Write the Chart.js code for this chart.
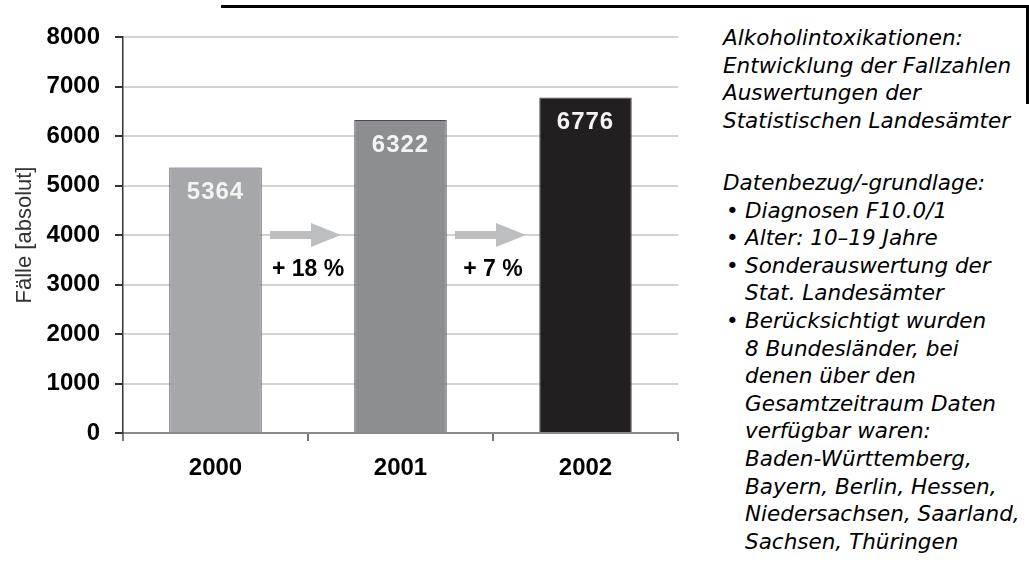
<!DOCTYPE html>
<html lang="de">
<head>
    <meta charset="UTF-8">
    <title>Alkoholintoxikationen: Entwicklung der Fallzahlen</title>
    <script src="https://cdn.jsdelivr.net/npm/chart.js"></script>
    <style>
        body { margin: 0; background: #fff; }
        .page { position: relative; width: 1029px; height: 579px; overflow: hidden; }
        .chart-box { position: absolute; left: 0; top: 0; width: 700px; height: 579px; }
        .frame {
            position: absolute; left: 221px; right: 0; top: 5px; height: 96px;
            border-top: 3px solid #000; border-right: 3px solid #000;
        }
        .note {
            position: absolute; left: 723px; width: 306px;
            font-family: "DejaVu Sans", sans-serif; font-style: italic;
            font-size: 21.5px; line-height: 27.6px; color: #000; white-space: nowrap;
        }
        .note .item { position: relative; padding-left: 22px; }
        .note .item::before { content: "•"; position: absolute; left: 3px; font-style: normal; }
    </style>
</head>
<body>
    <div class="page">
        <div class="frame"></div>
        <div class="chart-box"><canvas id="casesChart"></canvas></div>

        <div class="note" style="top:24px;">
            Alkoholintoxikationen:<br>
            Entwicklung der Fallzahlen<br>
            Auswertungen der<br>
            Statistischen Landesämter
        </div>
        <div class="note" style="top:169px;">
            Datenbezug/-grundlage:
            <div class="item">Diagnosen F10.0/1</div>
            <div class="item">Alter: 10–19 Jahre</div>
            <div class="item">Sonderauswertung der<br>Stat. Landesämter</div>
            <div class="item">Berücksichtigt wurden<br>8 Bundesländer, bei<br>denen über den<br>Gesamtzeitraum Daten<br>verfügbar waren:<br>Baden-Württemberg,<br>Bayern, Berlin, Hessen,<br>Niedersachsen, Saarland,<br>Sachsen, Thüringen</div>
        </div>
    </div>

    <script>
        // Daten
        const years = ['2000', '2001', '2002'];
        const cases = [5364, 6322, 6776];
        const barColors = ['#a6a7aa', '#8d8e92', '#231f20'];
        const changeLabels = ['+ 18 %', '+ 7 %'];

        // Werte in die Balken schreiben, Pfeile und Zuwachs zwischen den Balken
        const barExtras = {
            id: 'barExtras',
            afterDatasetsDraw(chart) {
                const ctx = chart.ctx;
                const x = chart.scales.x;
                const y = chart.scales.y;
                const bars = chart.getDatasetMeta(0).data;

                ctx.save();
                ctx.fillStyle = '#f4f4f4';
                ctx.font = 'bold 24px "Liberation Sans", Arial, sans-serif';
                ctx.letterSpacing = '1px';
                ctx.textAlign = 'center';
                ctx.textBaseline = 'middle';
                bars.forEach((bar, i) => {
                    ctx.fillText(String(cases[i]), bar.x, bar.y + 25);
                });
                ctx.letterSpacing = '0px';

                changeLabels.forEach((label, i) => {
                    const mid = (x.getPixelForValue(i) + x.getPixelForValue(i + 1)) / 2;
                    const ay = y.getPixelForValue(4000);

                    ctx.fillStyle = '#bdbec0';
                    ctx.beginPath();
                    ctx.moveTo(mid - 38, ay - 4);
                    ctx.lineTo(mid + 3, ay - 4);
                    ctx.lineTo(mid + 3, ay - 12);
                    ctx.lineTo(mid + 33, ay);
                    ctx.lineTo(mid + 3, ay + 12);
                    ctx.lineTo(mid + 3, ay + 4);
                    ctx.lineTo(mid - 38, ay + 4);
                    ctx.closePath();
                    ctx.fill();

                    ctx.fillStyle = '#000';
                    ctx.font = 'bold 23px "Liberation Sans", Arial, sans-serif';
                    ctx.fillText(label, mid, y.getPixelForValue(3300));
                });
                ctx.restore();
            }
        };

        const ctx = document.getElementById('casesChart').getContext('2d');
        new Chart(ctx, {
            type: 'bar',
            data: {
                labels: years,
                datasets: [{
                    label: 'Fälle',
                    data: cases,
                    backgroundColor: barColors,
                    borderColor: '#4a4a4a',
                    borderWidth: 1,
                    borderSkipped: 'bottom',
                    categoryPercentage: 1,
                    barPercentage: 0.5
                }]
            },
            options: {
                responsive: true,
                maintainAspectRatio: false,
                animation: false,
                layout: { padding: { left: 0, top: 37, right: 22, bottom: 0 } },
                plugins: {
                    legend: { display: false },
                    tooltip: { enabled: false }
                },
                scales: {
                    x: {
                        afterFit(scale) { scale.height = 146; },
                        grid: {
                            offset: true,
                            color: c => c.index === 3 ? '#d0d0d0' : 'rgba(0,0,0,0)',
                            lineWidth: 2,
                            tickColor: '#777',
                            tickLength: 8
                        },
                        border: { color: '#8a8a8a', width: 2 },
                        ticks: {
                            color: '#000',
                            padding: 13,
                            font: { family: '"Liberation Sans", Arial, sans-serif', size: 24, weight: 'bold' }
                        }
                    },
                    y: {
                        min: 0,
                        max: 8000,
                        afterFit(scale) { scale.width = 123; },
                        grid: {
                            color: '#d3d3d3',
                            lineWidth: 2,
                            tickColor: '#333',
                            tickLength: 8
                        },
                        border: { color: '#333', width: 1.5 },
                        ticks: {
                            stepSize: 1000,
                            color: '#000',
                            padding: 15,
                            callback: v => String(v),
                            font: { family: '"Liberation Sans", Arial, sans-serif', size: 24, weight: 'bold' }
                        },
                        title: {
                            display: true,
                            text: 'Fälle [absolut]',
                            color: '#333',
                            padding: { top: 12, bottom: 4 },
                            font: { family: '"Liberation Sans", Arial, sans-serif', size: 22 }
                        }
                    }
                }
            },
            plugins: [barExtras]
        });
    </script>
</body>
</html>
